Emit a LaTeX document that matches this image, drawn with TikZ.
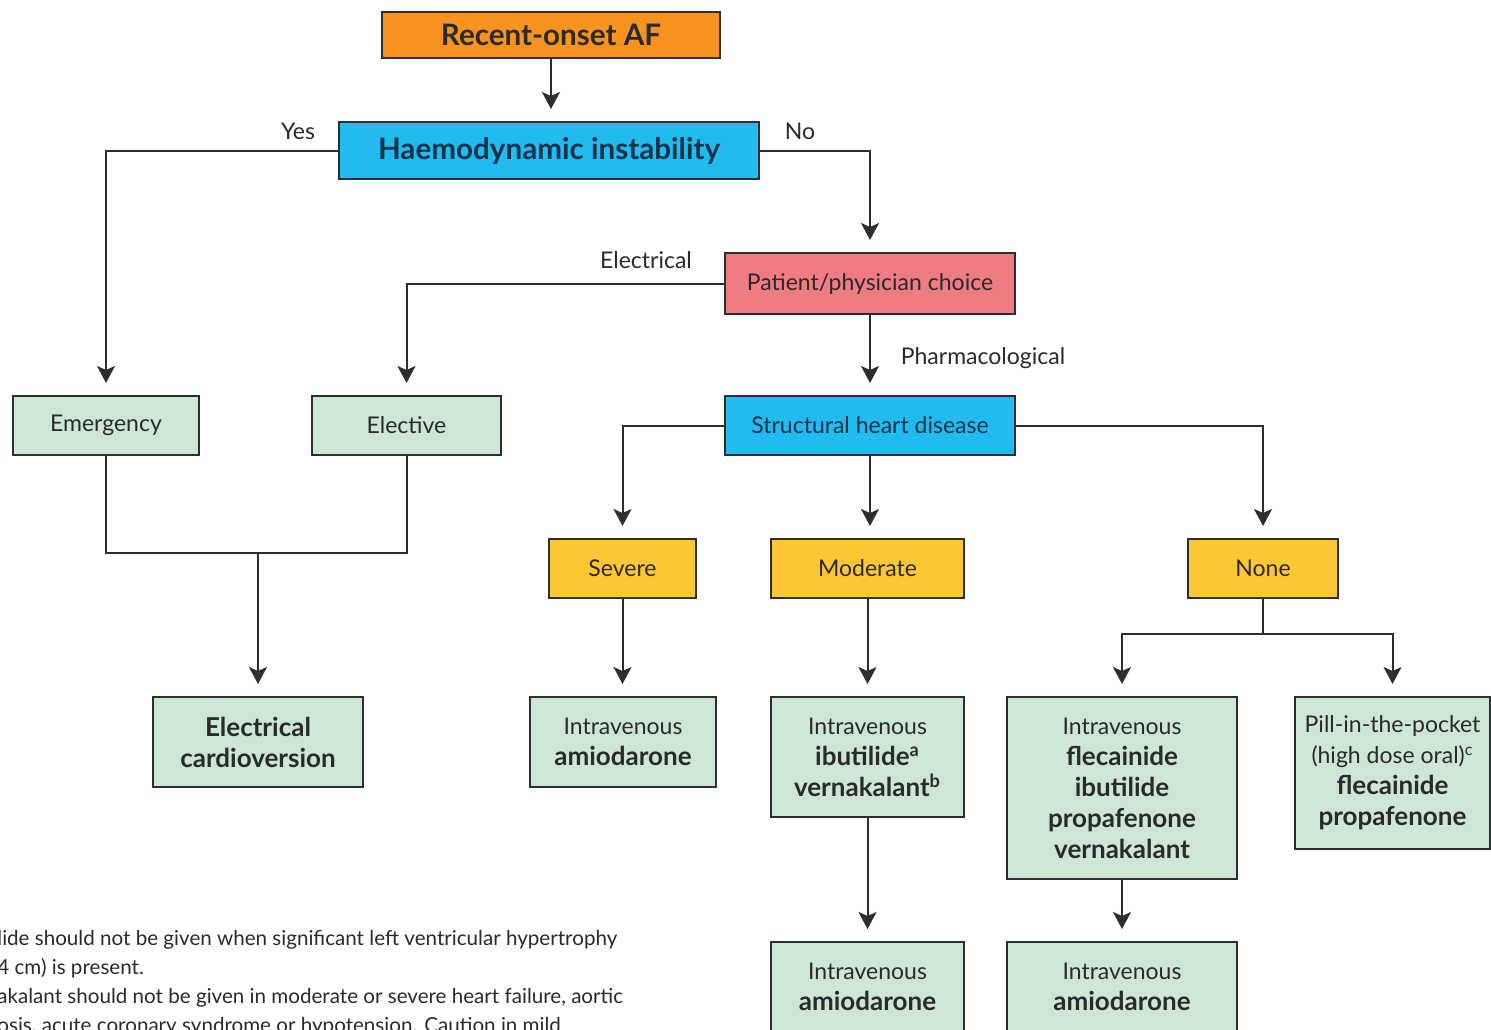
\documentclass[tikz,border=0pt]{standalone}
\usepackage{fontspec}
\setmainfont{Lato}
\usetikzlibrary{arrows.meta}

\definecolor{afOrange}{HTML}{F7931E}
\definecolor{afCyan}{HTML}{21BBEF}
\definecolor{afPink}{HTML}{EF7B83}
\definecolor{afYellow}{HTML}{FDC633}
\definecolor{afGreen}{HTML}{CDE6D6}
\definecolor{lineGrey}{HTML}{2E2E2E}
\definecolor{textGrey}{HTML}{2A2A2A}
\definecolor{textNavy}{HTML}{12324A}

\newcommand{\drugname}[1]{{\fontsize{13}{15.5}\selectfont\bfseries #1}}

\begin{document}
\begin{tikzpicture}
[x=0.5pt, y=-0.5pt,
  boxDecorate/.style={shape=rectangle,draw=lineGrey,line width=1pt,inner sep=2pt,align=center,
    font=\fontsize{11.5}{15.5}\selectfont},
  orangeBox/.style={boxDecorate,fill=afOrange,text=textGrey},
  cyanBox/.style={boxDecorate,fill=afCyan,text=textNavy},
  pinkBox/.style={boxDecorate,fill=afPink,text=textGrey},
  yellowBox/.style={boxDecorate,fill=afYellow,text=textGrey,minimum height=29.5pt},
  greenBox/.style={boxDecorate,fill=afGreen,text=textGrey},
  lineDecorate/.style={-,draw=lineGrey,line width=1pt},
  arrowDecorate/.style={lineDecorate,-{Stealth[length=8.5pt,width=9pt,inset=2pt]},shorten >=6pt},
  labelDecorate/.style={font=\fontsize{11.5}{13}\selectfont,text=textGrey}]
\useasboundingbox (0,0) rectangle (1491,1029);
\clip (0,0) rectangle (1491,1029);

%% top of the chart
\node (onset) at (551,35) [orangeBox,minimum width=169pt,minimum height=23pt]
  {{\fontsize{14.8}{16}\selectfont\bfseries Recent-onset AF}};
\node (haemo) at (549,150.5) [cyanBox,minimum width=210pt,minimum height=28.5pt]
  {{\fontsize{14.8}{16}\selectfont\bfseries Haemodynamic instability}};
\node (choice) at (870,283.5) [pinkBox,minimum width=145pt,minimum height=30.5pt]
  {Patient/physician choice};
\node (shd) at (870,425.5) [cyanBox,minimum width=145pt,minimum height=29.5pt]
  {Structural heart disease};

%% second row
\node (emerg) at (106,425.5) [greenBox,minimum width=93pt,minimum height=29.5pt] {Emergency};
\node (elective) at (406.5,425.5) [greenBox,minimum width=94.5pt,minimum height=29.5pt] {Elective};

%% severity of heart disease
\foreach \nodename/\x/\w/\txt in {severe/622.5/73.5/Severe, moderate/867.5/96.5/Moderate, none/1263/75/None} {
  \node (\nodename) at (\x,568.5) [yellowBox,minimum width=\w pt] {\txt};
}

%% treatments
\node (cardio) at (258,742) [greenBox,minimum width=105pt,minimum height=45pt]
  {\drugname{Electrical}\\\drugname{cardioversion}};
\node (amioS) at (623,742) [greenBox,minimum width=93pt,minimum height=45pt]
  {Intravenous\\\drugname{amiodarone}};
\node (modDrugs) at (867.5,757) [greenBox,minimum width=96.5pt,minimum height=60pt]
  {Intravenous\\\drugname{ibutilide\textsuperscript{a}}\\\drugname{vernakalant\textsuperscript{b}}};
\node (noneDrugs) at (1122,788) [greenBox,minimum width=115pt,minimum height=91pt]
  {Intravenous\\\drugname{flecainide}\\\drugname{ibutilide}\\\drugname{propafenone}\\\drugname{vernakalant}};
\node (pill) at (1392.5,773) [greenBox,minimum width=97.5pt,minimum height=76pt]
  {Pill-in-the-pocket\\(high dose oral)\textsuperscript{c}\\\drugname{flecainide}\\\drugname{propafenone}};
\node (amioM) at (867.5,987) [greenBox,minimum width=96.5pt,minimum height=45pt]
  {Intravenous\\\drugname{amiodarone}};
\node (amioN) at (1122,987) [greenBox,minimum width=115pt,minimum height=45pt]
  {Intravenous\\\drugname{amiodarone}};

%% branch labels
\node (yes) at (298,131) [labelDecorate] {Yes};
\node (no) at (800,131) [labelDecorate] {No};
\node (elec) at (646,260) [labelDecorate] {Electrical};
\node (pharm) at (983,358) [labelDecorate] {Pharmacological};

%% footnotes
\node (notes) at (-3,930) [anchor=north west,align=left,inner sep=0pt,text=textGrey,
  font=\fontsize{10.3}{14.5}\selectfont]
  {lide should not be given when significant left ventricular hypertrophy\\
   4 cm) is present.\\
   akalant should not be given in moderate or severe heart failure, aortic\\
   osis, acute coronary syndrome or hypotension. Caution in mild};

%% join points
\coordinate (merge) at (258,553);
\coordinate (split) at (1263,634);

%% edges or lines
\draw[arrowDecorate] (haemo.west) -| (emerg.north);
\draw[arrowDecorate] (haemo.east) -| (choice.north);
\draw[arrowDecorate] (choice.west) -| (elective.north);
\draw[lineDecorate] (emerg.south) |- (merge) -| (elective.south);
\draw[arrowDecorate] (merge) -- (cardio.north);
\draw[arrowDecorate] (shd.west) -| (severe.north);
\draw[arrowDecorate] (shd.east) -| (none.north);
\draw[lineDecorate] (none.south) -- (split);
\path
\foreach \startnode/\endnode in {onset/haemo, choice/shd, shd/moderate, severe/amioS, moderate/modDrugs, modDrugs/amioM, noneDrugs/amioN} {
  (\startnode.south) edge[arrowDecorate] (\startnode.south |- \endnode.north)
};
\draw[arrowDecorate] (split) -| (noneDrugs.north);
\draw[arrowDecorate] (split) -| (pill.north);
\end{tikzpicture}
\end{document}
